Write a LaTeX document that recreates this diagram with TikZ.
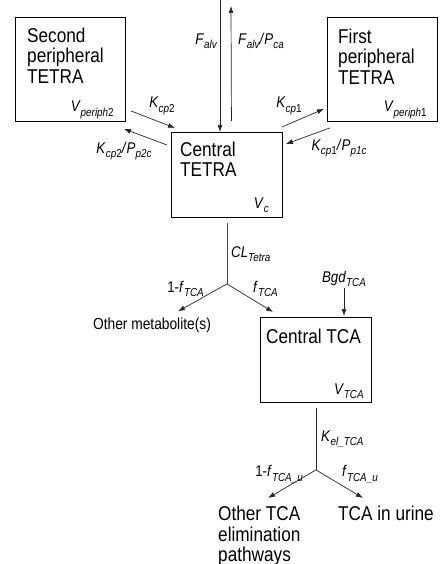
\documentclass[tikz,border=0pt]{standalone}
\usepackage{fontspec}
\setmainfont{Liberation Sans}[FakeStretch=0.86]
\usetikzlibrary{positioning,arrows.meta}
\newcommand{\lowsub}[1]{\raisebox{-0.28em}{\fontsize{11.5}{12}\selectfont\itshape #1}}
\newcommand{\param}[2]{\textit{#1}\lowsub{#2}}

\begin{document}
\begin{tikzpicture}[x=1pt,y=-1pt,
    >={Latex[length=7pt,width=5pt]},
    box/.style={draw,line width=0.9pt,inner sep=0pt},
    title/.style={font=\fontsize{20}{20.5}\selectfont,align=left,inner sep=0pt},
    rate/.style={font=\fontsize{15.5}{17}\selectfont,inner sep=0pt},
    flow/.style={->,line width=0.7pt,black!85}]
    \useasboundingbox (0,0) rectangle (442,564);

    % Compartments
    \node[box,minimum width=110pt,minimum height=104pt,anchor=north west] (second_box) at (15,17) {};
    \node[box,minimum width=110pt,minimum height=104pt,anchor=north west] (first_box) at (327,17) {};
    \node[box,minimum width=111pt,minimum height=85pt,anchor=north west] (central_box) at (171,132) {};
    \node[box,minimum width=111pt,minimum height=85pt,anchor=north west] (tca_box) at (260,317) {};

    \node[title,below right=10.5pt and 12pt of second_box.north west] (second_title) {Second\\peripheral\\TETRA};
    \node[title,below right=11.5pt and 11pt of first_box.north west] (first_title) {First\\peripheral\\TETRA};
    \node[title,below right=9.5pt and 9pt of central_box.north west] (central_title) {Central\\TETRA};
    \node[title,below right=11.5pt and 6pt of tca_box.north west] (tca_title) {Central TCA};

    % Volumes
    \node[rate,above left=3pt and 12pt of second_box.south east] (second_vol) {\param{V}{periph\upshape 2}};
    \node[rate,above left=3pt and 11pt of first_box.south east] (first_vol) {\param{V}{periph\upshape 1}};
    \node[rate,above left=5pt and 14pt of central_box.south east] (central_vol) {\param{V}{c}};
    \node[rate,above left=4pt and 8pt of tca_box.south east] (tca_vol) {\param{V}{TCA}};

    % Exchange with air
    \coordinate (air_in) at (220,0);
    \coordinate (air_out) at (231,6);
    \draw[flow] (air_in) -- (air_in |- central_box.north);
    \draw[flow] ([shift={(4.5,-11)}]central_box.north) -- (air_out);
    \node[rate,anchor=east] (inhale) at (217,41) {\param{F}{alv}};
    \node[rate,anchor=west] (exhale) at (238,41) {\param{F}{alv}\textit{/}\param{P}{ca}};

    % Exchange with peripheral compartments
    \draw[flow] ([shift={(5,-11)}]second_box.south east) -- ([shift={(4,-4)}]central_box.north west);
    \draw[flow] ([shift={(-4,13)}]central_box.north west) -- ([shift={(-2,7)}]second_box.south east);
    \draw[flow] ([shift={(-1,-5)}]central_box.north east) -- ([shift={(-3,-13)}]first_box.south west);
    \draw[flow] ([shift={(3,6)}]first_box.south west) -- ([shift={(3,12)}]central_box.north east);
    \node[rate] (k_second) at (162,106) {\param{K}{cp\upshape 2}};
    \node[rate] (k_second_back) at (124,151) {\param{K}{cp\upshape 2}\textit{/}\param{P}{p2c}};
    \node[rate] (k_first) at (289,106) {\param{K}{cp\upshape 1}};
    \node[rate] (k_first_back) at (339,148) {\param{K}{cp\upshape 1}\textit{/}\param{P}{p1c}};

    % Metabolism of TETRA
    \coordinate (tetra_split) at ([shift={(0,66)}]central_box.south);
    \draw[line width=0.7pt,black!70,shorten <=5pt] (central_box.south) -- (tetra_split);
    \node[rate,anchor=west] (cl_tetra) at (231,254) {\param{CL}{Tetra}};
    \node[font=\fontsize{16}{18}\selectfont,inner sep=0pt] (other_met) at (152,325) {Other metabolite(s)};
    \draw[flow] (tetra_split) -- ([shift={(26,-6)}]other_met.north);
    \draw[flow] (tetra_split) -- ([shift={(13,-5)}]tca_box.north west);
    \node[rate,anchor=east] (frac_other) at (204,289) {1-\param{f}{TCA}};
    \node[rate,anchor=west] (frac_tca) at (253,289) {\param{f}{TCA}};

    \node[rate] (bgd) at (344,279) {\param{Bgd}{TCA}};
    \draw[flow,shorten <=1pt,shorten >=1pt] (bgd.south) -- (bgd.south |- tca_box.north);

    % Elimination of TCA
    \coordinate (tca_split) at ([shift={(0,67)}]tca_box.south);
    \draw[line width=0.7pt,black!85,shorten <=5pt] (tca_box.south) -- (tca_split);
    \node[rate,anchor=west] (k_el) at (321,439) {\param{K}{el\_TCA}};
    \node[title,anchor=north west] (other_tca) at (218,506) {Other TCA\\elimination\\pathways};
    \node[title,anchor=north west] (urine) at (338,506) {TCA in urine};
    \draw[flow] (tca_split) -- ([shift={(50,-8)}]other_tca.north west);
    \draw[flow] (tca_split) -- ([shift={(25,-8)}]urine.north west);
    \node[rate,anchor=east] (frac_u_other) at (303,474) {1-\param{f}{TCA\_u}};
    \node[rate,anchor=west] (frac_u) at (342,474) {\param{f}{TCA\_u}};
\end{tikzpicture}
\end{document}
